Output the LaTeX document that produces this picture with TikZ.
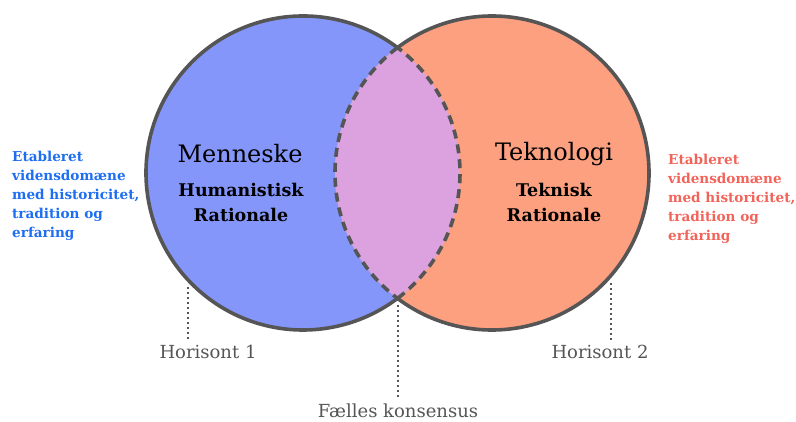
\documentclass[tikz,border=0pt]{standalone}
\usepackage{fontspec}
\usetikzlibrary{calc}
\setmainfont{DejaVu Serif}
\begin{document}
\begin{tikzpicture}[x=1pt,y=1pt,
  ring/.style={draw=ringgray,line width=3.6pt},
  seam/.style={draw=ringgray,line width=3.6pt,dash pattern=on 9pt off 6pt},
  leader/.style={draw=ringgray,line width=1.9pt,dash pattern=on 1.9pt off 3.1pt},
  title/.style={font=\fontsize{24}{26}\selectfont,text=black,inner sep=0pt},
  subtitle/.style={font=\bfseries\fontsize{17.5}{25}\selectfont,text=black,align=center,inner sep=0pt},
  side/.style={font=\bfseries\fontsize{13.6}{19}\selectfont,align=left,inner sep=0pt,anchor=north west},
  caption/.style={font=\fontsize{18}{20}\selectfont,text=ringgray,inner sep=0pt}]
\definecolor{ringgray}{RGB}{85,85,85}
\definecolor{humblue}{RGB}{133,150,250}
\definecolor{tekorange}{RGB}{253,160,128}
\definecolor{lens}{RGB}{220,162,224}
\definecolor{bluetext}{RGB}{30,110,242}
\definecolor{redtext}{RGB}{242,100,90}
\useasboundingbox (0,0) rectangle (796,422);
\coordinate (cl) at (303,249);
\coordinate (cr) at (492,249);
% filled discs and the common lens
\fill[humblue] (cl) circle[radius=157];
\fill[tekorange] (cr) circle[radius=157];
\begin{scope}
  \clip (cl) circle[radius=157];
  \fill[lens] (cr) circle[radius=157];
\end{scope}
% outer arcs solid, inner arcs dashed
\draw[ring] ($(cl)+(53:157)$) arc[start angle=53,end angle=307,radius=157];
\draw[ring] ($(cr)+(-127:157)$) arc[start angle=-127,end angle=127,radius=157];
\draw[seam] ($(cl)+(-53:157)$) arc[start angle=-53,end angle=53,radius=157];
\draw[seam] ($(cr)+(127:157)$) arc[start angle=127,end angle=233,radius=157];
% labels inside the circles
\node[title] (men) at (240,268) {Menneske};
\node[subtitle] (hum) at (241,220) {Humanistisk\\Rationale};
\node[title] (tek) at (554,268) {Teknologi};
\node[subtitle] (tekr) at (554,220) {Teknisk\\Rationale};
% side notes
\node[side,text=bluetext] (noteL) at (12,271) {Etableret\\vidensdomæne\\med historicitet,\\tradition og\\erfaring};
\node[side,text=redtext] (noteR) at (668,268) {Etableret\\vidensdomæne\\med historicitet,\\tradition og\\erfaring};
% captions and their leaders
\node[caption] (h1) at (208,70) {Horisont 1};
\node[caption] (h2) at (600,70) {Horisont 2};
\node[caption] (fk) at (398,11) {Fælles konsensus};
\coordinate (h1top) at (188,135);
\coordinate (h2top) at (611,139);
\coordinate (fktop) at (398,117);
\draw[leader] (h1top) -- ([yshift=3pt]h1top |- h1.north);
\draw[leader] (h2top) -- ([yshift=3pt]h2top |- h2.north);
\draw[leader] (fktop) -- ([yshift=6pt]fktop |- fk.north);
\end{tikzpicture}
\end{document}
